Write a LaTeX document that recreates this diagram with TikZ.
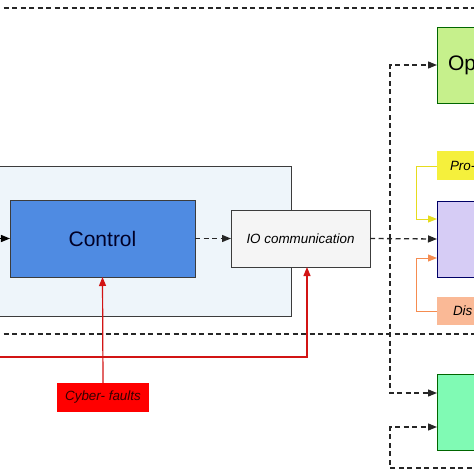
\documentclass[tikz,border=0pt]{standalone}
\usepackage{fontspec}
\setmainfont{Liberation Sans}
\usetikzlibrary{arrows.meta,positioning}
\definecolor{contfill}{RGB}{238,245,250}
\definecolor{ctrlfill}{RGB}{79,139,226}
\definecolor{iofill}{RGB}{245,245,245}
\definecolor{optfill}{RGB}{198,240,140}
\definecolor{purfill}{RGB}{214,204,245}
\definecolor{yelfill}{RGB}{245,240,60}
\definecolor{orafill}{RGB}{250,185,150}
\definecolor{grnfill}{RGB}{128,250,180}
\definecolor{redline}{RGB}{210,20,20}
\definecolor{yelline}{RGB}{230,220,30}
\definecolor{oraline}{RGB}{245,140,80}
\definecolor{bordergray}{RGB}{60,60,60}
\tikzset{
  box/.style={draw=bordergray, line width=1pt, inner sep=0pt, outer sep=0pt},
  dline/.style={line width=1.3pt, dash pattern=on 5pt off 3.5pt, draw=black!85},
  tip/.style={-{Triangle[length=9pt,width=7pt]}},
  bigtxt/.style={font=\fontsize{21}{24}\selectfont},
  smalltxt/.style={font=\fontsize{13.4}{16}\selectfont\itshape},
}
\begin{document}
\begin{tikzpicture}[x=1pt,y=-1pt]
\useasboundingbox (0,0) rectangle (474,474);
% separator dashed lines
\coordinate (tl) at (-5,8); \coordinate (tr) at (480,8);
\draw[dline] (tl) -- (tr);
\coordinate (ml) at (-5,334); \coordinate (mr) at (480,334);
\draw[dline] (ml) -- (mr);
% container
\node[box, draw=bordergray, fill=contfill, minimum width=301pt, minimum height=150pt, anchor=north west] (cont) at (-10,166) {};
% nodes
\node[box, fill=ctrlfill, minimum width=185pt, minimum height=77pt, bigtxt, text=black!85!blue] (ctrl) at (102.5,238.5) {Control};
\node[box, fill=iofill, minimum width=139pt, minimum height=57pt, smalltxt] (io) at (300.5,238.5) {IO communication};
\node[box, draw=black!60!green, fill=optfill, minimum width=60pt, minimum height=76pt, anchor=north west, bigtxt, align=left, text width=48pt, inner xsep=11pt] (opt) at (437,27) {Op};
\node[box, draw=none, fill=yelfill, minimum width=60pt, minimum height=29pt, anchor=north west, smalltxt, align=left, text width=46pt, inner xsep=13pt] (yel) at (437,151) {Pro-};
\node[box, draw=black!60!blue, fill=purfill, minimum width=60pt, minimum height=76pt, anchor=north west] (pur) at (437,201) {};
\node[box, draw=none, fill=orafill, minimum width=60pt, minimum height=28pt, anchor=north west, smalltxt, align=left, text width=44pt, inner xsep=16pt] (ora) at (437,297) {Dis};
\node[box, draw=black!60!green, fill=grnfill, minimum width=60pt, minimum height=76pt, anchor=north west] (grn) at (437,374) {};
\node[box, draw=none, fill=red, minimum width=92pt, minimum height=29pt, smalltxt, text=black!80!red] (cyber) at (103,397.5) {Cyber- faults};
% connectors
\coordinate (inL) at (-10,238.5);
\draw[line width=1.2pt, tip] (inL) -- (ctrl.west);
\draw[dline, tip] (ctrl.east) -- (io.west);
\draw[dline, tip] (io.east) -- (pur.west);
\coordinate (j) at (390,238.5);
\coordinate (optin) at (437,65);
\coordinate (grnin1) at (437,393);
\coordinate (grnin2) at (437,427);
\coordinate (loopR) at (480,468);
\coordinate (loopL) at (390,468);
\draw[dline, tip] (j) |- (optin);
\draw[dline, tip] (j) |- (grnin1);
\draw[dline, tip] (loopR) -- (loopL) |- (grnin2);
% yellow and orange feeds
\coordinate (yk) at (416,166);
\coordinate (purY) at (437,219);
\coordinate (ok) at (416,311);
\coordinate (purO) at (437,258);
\draw[yelline, line width=1pt, tip] (yel.west |- yk) -- (yk) |- (purY);
\draw[oraline, line width=1pt, tip] (ora.west |- ok) -- (ok) |- (purO);
% red lines
\draw[redline, line width=1.2pt, tip] (cyber.north) -- (ctrl.south);
\coordinate (rl) at (-10,357);
\coordinate (rk) at (307,357);
\coordinate (ioin) at (307,267);
\draw[redline, line width=1.2pt, tip] (rl) -- (rk) -- (ioin);
\end{tikzpicture}
\end{document}
